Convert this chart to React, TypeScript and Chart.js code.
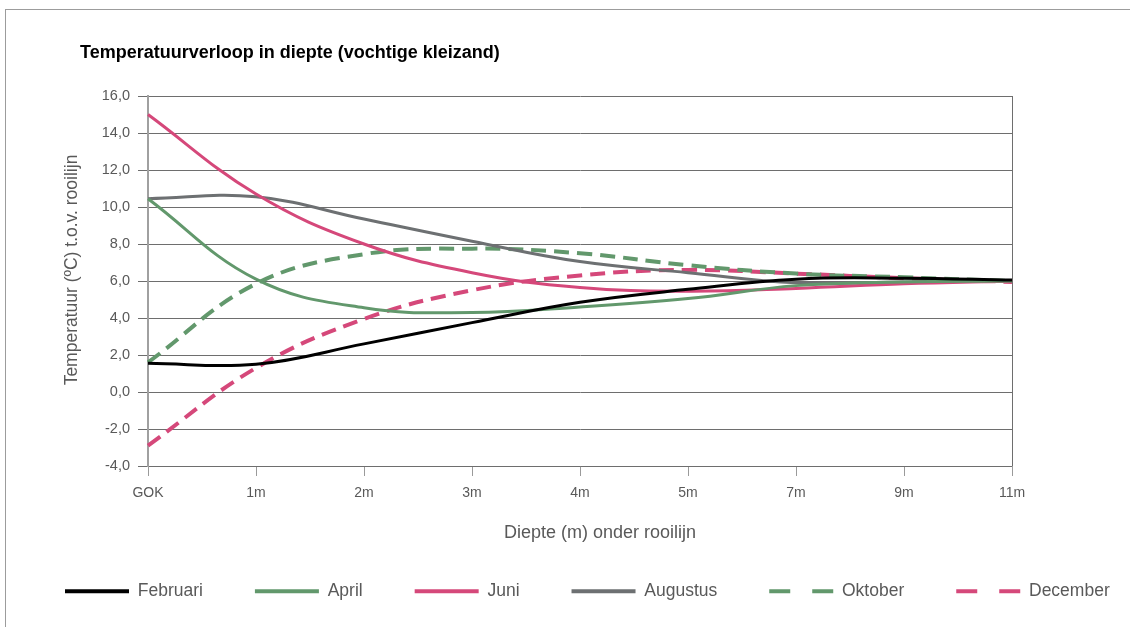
import React, { useEffect, useRef } from 'react';
import { Chart, registerables } from 'chart.js';

Chart.register(...registerables);

// ---- data ----
const categories = ['GOK', '1m', '2m', '3m', '4m', '5m', '7m', '9m', '11m'];
const februari = [1.55, 1.5, 2.6, 3.75, 4.85, 5.55, 6.1, 6.15, 6.05];
const april = [10.45, 6.1, 4.55, 4.3, 4.6, 5.05, 5.75, 5.95, 6.0];
const juni = [15.0, 10.7, 8.0, 6.45, 5.65, 5.45, 5.6, 5.85, 6.0];
const augustus = [10.45, 10.55, 9.35, 8.15, 7.05, 6.45, 5.9, 5.95, 6.0];
const oktober = [1.6, 5.85, 7.45, 7.75, 7.5, 6.85, 6.4, 6.2, 6.0];
const december = [-2.9, 1.3, 3.95, 5.5, 6.3, 6.6, 6.4, 6.15, 5.95];
const seriesNames = ['Februari', 'April', 'Juni', 'Augustus', 'Oktober', 'December'];
const yMin = -4;
const yMax = 16;
const yStep = 2;

const chartTitle = 'Temperatuurverloop in diepte (vochtige kleizand)';
const yTitle = 'Temperatuur (ºC) t.o.v. rooilijn';
const xTitle = 'Diepte (m) onder rooilijn';

// ---- styles ----
const FONT = "'Liberation Sans', Arial, sans-serif";
const BLACK = '#000000';
const GREEN = '#62986C';
const PINK = '#D5487A';
const GRAY = '#6D7072';
const TEXT = '#595959';
const GRID = '#6E6E6E';

const textPlugin = {
  id: 'customTexts',
  afterDraw(chart: any) {
    const ctx = chart.ctx;
    const area = chart.chartArea;
    ctx.save();
    ctx.fillStyle = '#000';
    ctx.font = `bold 18px ${FONT}`;
    ctx.textAlign = 'left';
    ctx.textBaseline = 'middle';
    ctx.fillText(chartTitle, 80, 53);

    ctx.fillStyle = TEXT;
    ctx.font = `18px ${FONT}`;
    ctx.textAlign = 'center';
    ctx.fillText(xTitle, (area.left + area.right) / 2 + 20, 533);

    ctx.font = `17.5px ${FONT}`;
    ctx.translate(72, 270);
    ctx.rotate(-Math.PI / 2);
    ctx.fillText(yTitle, 0, 0);
    ctx.restore();
  },
};

export default function App() {
  const ref = useRef<HTMLCanvasElement | null>(null);

  useEffect(() => {
    if (!ref.current) return;
    const mk = (label: string, data: number[], color: string, dashed: boolean) => ({
      label,
      data,
      borderColor: color,
      backgroundColor: color,
      borderWidth: dashed ? 4 : 3,
      borderDash: dashed ? [15, 8] : [],
      pointRadius: 0,
      pointHoverRadius: 0,
      tension: 0.4,
      fill: false,
      yAxisID: 'y',
    });
    const chart = new Chart(ref.current, {
      type: 'line',
      data: {
        labels: categories,
        datasets: [
          mk(seriesNames[0], februari, BLACK, false),
          mk(seriesNames[1], april, GREEN, false),
          mk(seriesNames[2], juni, PINK, false),
          mk(seriesNames[3], augustus, GRAY, false),
          mk(seriesNames[4], oktober, GREEN, true),
          mk(seriesNames[5], december, PINK, true),
        ],
      },
      options: {
        animation: false,
        responsive: false,
        devicePixelRatio: 1,
        layout: { padding: { left: 13, right: 0, top: 96, bottom: 17 } },
        plugins: {
          title: { display: false },
          tooltip: { enabled: false },
          legend: {
            display: true,
            position: 'bottom',
            align: 'start',
            labels: {
              usePointStyle: true,
              pointStyle: 'line',
              pointStyleWidth: 64,
              padding: 52,
              color: TEXT,
              font: { family: FONT, size: 17.5 },
              generateLabels: (chart: any) => {
                const items = Chart.defaults.plugins.legend.labels.generateLabels(chart);
                return items.map((it: any, i: number) => ({
                  ...it,
                  lineWidth: 4,
                  lineDash: i >= 4 ? [21, 22] : [],
                  pointStyle: 'line',
                  fontColor: TEXT,
                }));
              },
            },
          },
        },
        scales: {
          x: {
            type: 'category',
            offset: false,
            grid: {
              color: (c: any) => (c.index === categories.length - 1 ? GRID : 'rgba(0,0,0,0)'),
              tickColor: '#9A9A9A',
              tickLength: 10,
              lineWidth: 1,
            },
            border: { display: false },
            ticks: {
              color: TEXT,
              font: { family: FONT, size: 14 },
              padding: 9,
              maxRotation: 0,
              autoSkip: false,
            },
            afterFit: (s: any) => {
              s.height = 64.5;
            },
          },
          y: {
            type: 'linear',
            position: 'left',
            min: yMin,
            max: yMax,
            grid: { color: GRID, lineWidth: 1, tickLength: 10, tickColor: GRID },
            border: { display: true, color: '#A0A0A0', width: 2 },
            ticks: {
              stepSize: yStep,
              color: TEXT,
              padding: 8,
              font: { family: FONT, size: 14.5 },
              callback: (v: any) => Number(v).toFixed(1).replace('.', ','),
            },
            afterFit: (s: any) => {
              s.width = 135;
            },
          },
          y2: {
            type: 'linear',
            position: 'right',
            display: true,
            grid: { display: false },
            border: { display: false },
            ticks: { display: false },
            afterFit: (s: any) => {
              s.width = 188;
            },
          },
        },
      },
      plugins: [textPlugin],
    });
    return () => chart.destroy();
  }, []);

  return (
    <div
      style={{
        position: 'fixed',
        left: 0,
        top: 0,
        width: 1130,
        height: 627,
        overflow: 'hidden',
        background: '#fff',
      }}
    >
      <div
        style={{
          position: 'absolute',
          left: 5,
          top: 9,
          width: 1300,
          height: 800,
          border: '1px solid #9C9C9C',
        }}
      />
      <canvas
        ref={ref}
        width={1200}
        height={627}
        style={{ position: 'absolute', left: 0, top: 0, width: 1200, height: 627 }}
      />
    </div>
  );
}
